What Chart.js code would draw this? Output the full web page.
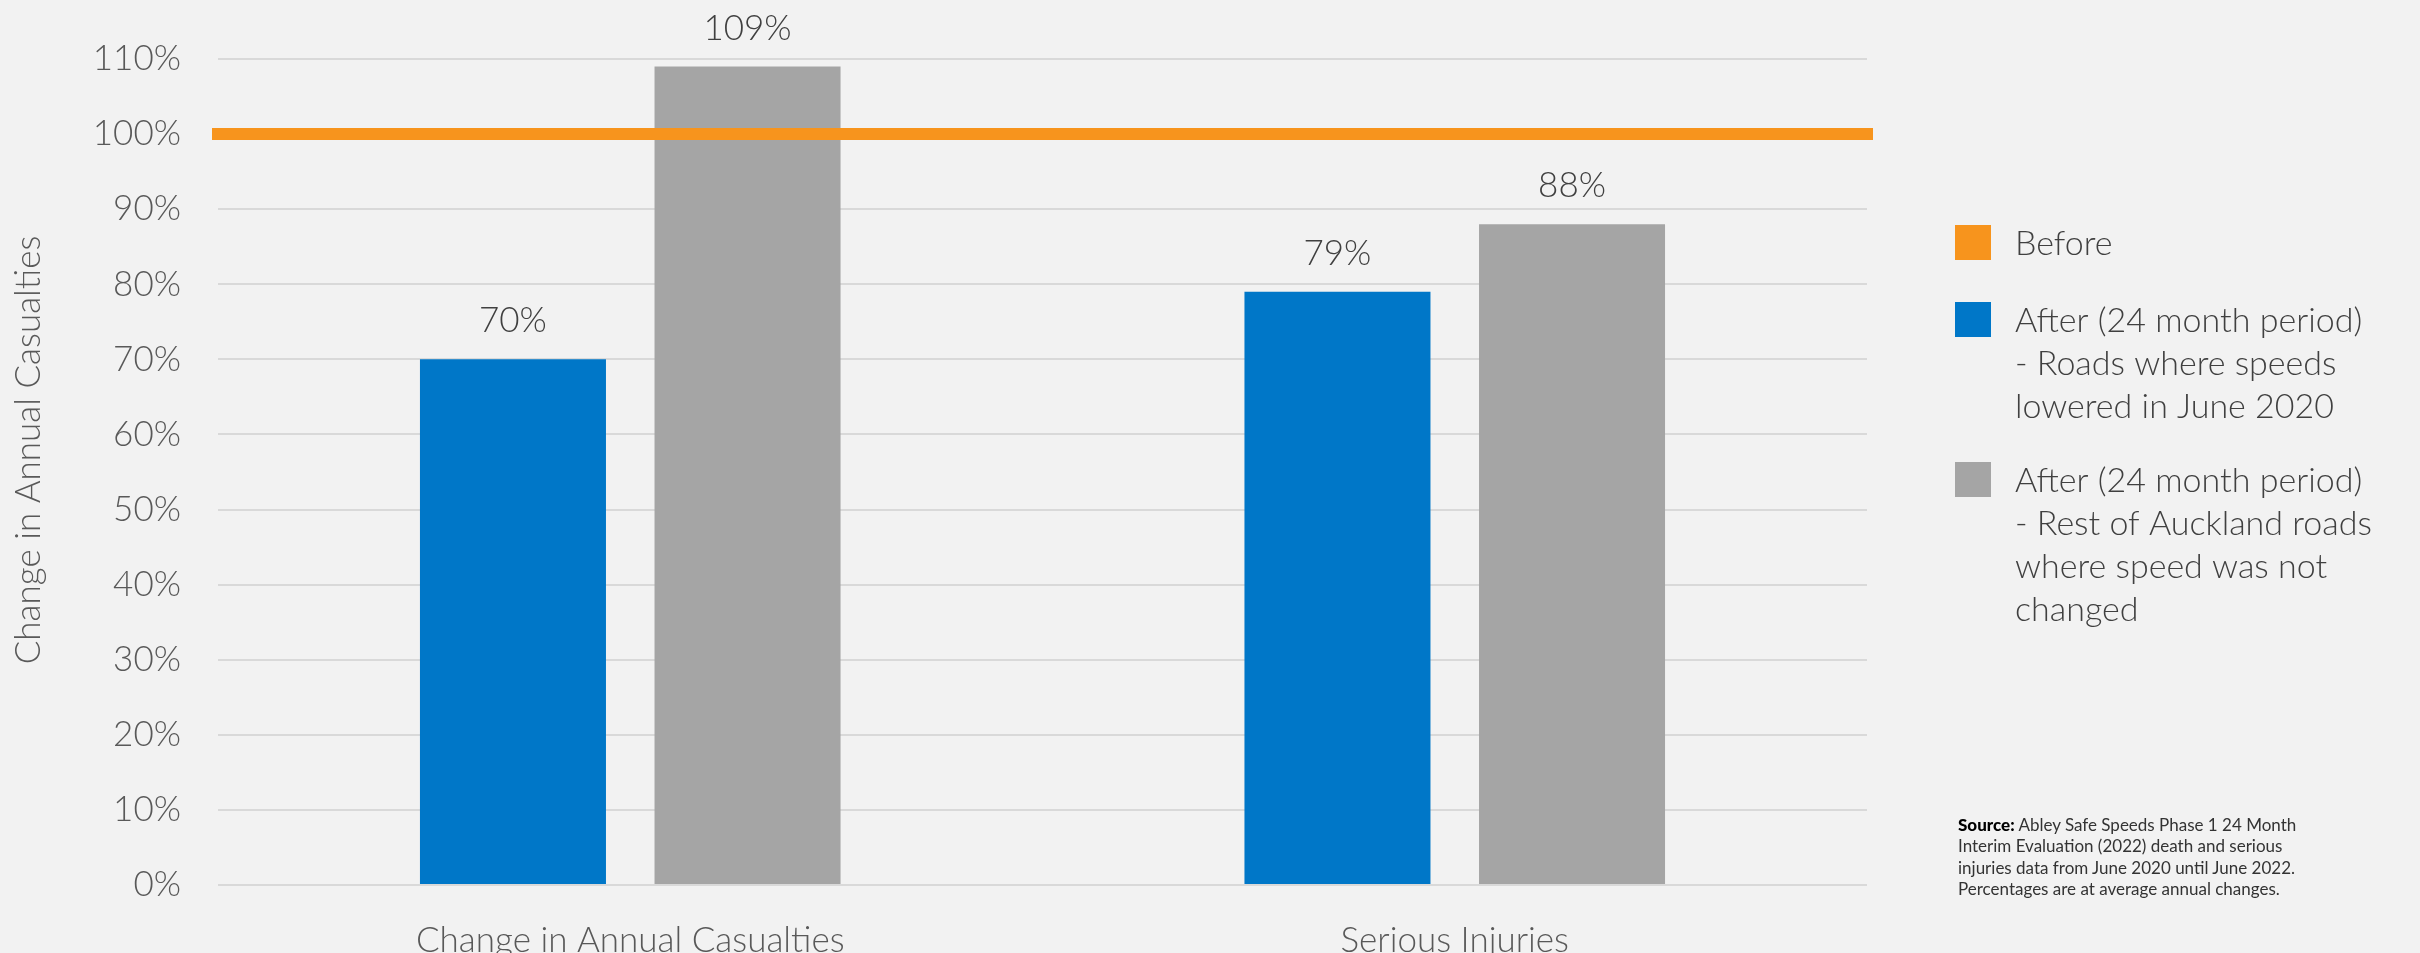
<!DOCTYPE html>
<html>
<head>
<meta charset="utf-8">
<script src="https://cdn.jsdelivr.net/npm/chart.js@4.4.0/dist/chart.umd.min.js"></script>
<style>
	html, body { margin: 0; padding: 0; background: #f2f2f2; }
	#wrap { position: relative; width: 2420px; height: 953px; overflow: hidden; }
	#myChart { position: absolute; left: 0; top: 0; }
	#source { position: absolute; left: 1958px; top: 814px; font-family: Lato, sans-serif; font-size: 17px; line-height: 21.3px; color: #333; white-space: nowrap; }
	#source b { font-weight: 900; color: #000; }
</style>
</head>
<body>
<div id="wrap">
	<canvas id="myChart" width="2420" height="953"></canvas>
	<div id="source"><b>Source:</b> Abley Safe Speeds Phase 1 24 Month<br>Interim Evaluation (2022) death and serious<br>injuries data from June 2020 until June 2022.<br>Percentages are at average annual changes.</div>
</div>
<script>
const categories = ['Change in Annual Casualties', 'Serious Injuries'];
const beforeValues = [100, 100];
const loweredValues = [70, 79];
const restValues = [109, 88];

const legendLines = [
	['Before'],
	['After (24 month period)', '- Roads where speeds', 'lowered in June 2020'],
	['After (24 month period)', '- Rest of Auckland roads', 'where speed was not', 'changed']
];
const seriesColors = ['#f7941d', '#0077c8', '#a5a5a5'];

const FONT = 'Lato, sans-serif';
const TEXT_GREY = '#595959';
// legend layout (px)
const LEGEND_X = 1955;
const LEGEND_BASELINES = [255, 332, 492];
const LEGEND_LINE = 43;

// "Before" reference line, drawn over the bars through the y scale
const beforeLine = {
	id: 'beforeLine',
	afterDatasetsDraw(chart) {
		const {ctx, chartArea, scales} = chart;
		const pts = beforeValues.map((v, i) => [scales.x.getPixelForValue(i), scales.y.getPixelForValue(v)]);
		pts.unshift([chartArea.left, pts[0][1]]);
		pts.push([chartArea.right, pts[pts.length - 1][1]]);
		ctx.save();
		ctx.strokeStyle = seriesColors[0];
		ctx.lineWidth = 12;
		ctx.lineCap = 'square';
		ctx.beginPath();
		pts.forEach((p, i) => i ? ctx.lineTo(p[0], p[1]) : ctx.moveTo(p[0], p[1]));
		ctx.stroke();
		ctx.restore();
	}
};

// value labels above each bar
const valueLabels = {
	id: 'valueLabels',
	afterDatasetsDraw(chart) {
		const ctx = chart.ctx;
		ctx.save();
		ctx.font = '300 35px ' + FONT;
		ctx.fillStyle = '#404040';
		ctx.textAlign = 'center';
		ctx.textBaseline = 'alphabetic';
		chart.data.datasets.forEach((ds, i) => {
			chart.getDatasetMeta(i).data.forEach((bar, j) => {
				ctx.fillText(ds.data[j] + '%', bar.x, bar.y - 27);
			});
		});
		ctx.restore();
	}
};

// y title sits a little above the middle of the plot, like the original
const yTitle = {
	id: 'yTitle',
	afterDraw(chart) {
		const ctx = chart.ctx;
		ctx.save();
		ctx.translate(29, 450);
		ctx.rotate(-Math.PI / 2);
		ctx.font = '300 35px ' + FONT;
		ctx.fillStyle = TEXT_GREY;
		ctx.textAlign = 'center';
		ctx.textBaseline = 'middle';
		ctx.fillText('Change in Annual Casualties', 0, 0);
		ctx.restore();
	}
};

// legend on the right, with wrapped labels
const sideLegend = {
	id: 'sideLegend',
	afterDraw(chart) {
		const ctx = chart.ctx;
		ctx.save();
		ctx.font = '300 34px ' + FONT;
		ctx.textAlign = 'left';
		ctx.textBaseline = 'alphabetic';
		legendLines.forEach((lines, i) => {
			const base = LEGEND_BASELINES[i];
			ctx.fillStyle = seriesColors[i];
			ctx.fillRect(LEGEND_X, base - 30, 36, 35);
			ctx.fillStyle = '#404040';
			lines.forEach((t, k) => ctx.fillText(t, LEGEND_X + 60, base + k * LEGEND_LINE));
		});
		ctx.restore();
	}
};

const config = {
	type: 'bar',
	data: {
		labels: categories,
		datasets: [
			{
				label: legendLines[1].join(' '),
				data: loweredValues,
				backgroundColor: seriesColors[1]
			},
			{
				label: legendLines[2].join(' '),
				data: restValues,
				backgroundColor: seriesColors[2]
			}
		]
	},
	options: {
		responsive: false,
		animation: false,
		devicePixelRatio: 1,
		categoryPercentage: 0.569,
		barPercentage: 0.793,
		layout: { padding: { top: 59, right: 553, left: 0, bottom: 0 } },
		plugins: {
			legend: { display: false },
			tooltip: { enabled: false }
		},
		scales: {
			x: {
				grid: { display: false },
				border: { display: false },
				ticks: { font: { family: FONT, size: 35, weight: 300 }, color: TEXT_GREY, padding: 27 },
				afterFit(scale) { scale.height = 68; }
			},
			y: {
				min: 0,
				max: 110,
				grid: { color: '#d9d9d9', lineWidth: 2, drawTicks: false },
				border: { display: false },
				ticks: {
					stepSize: 10,
					padding: 37,
					color: TEXT_GREY,
					font: { family: FONT, size: 35, weight: 300 },
					callback: v => v + '%'
				},
				afterFit(scale) { scale.width = 218; }
			}
		}
	},
	plugins: [beforeLine, valueLabels, yTitle, sideLegend]
};

const chartt = new Chart(document.getElementById('myChart'), config);
</script>
</body>
</html>
